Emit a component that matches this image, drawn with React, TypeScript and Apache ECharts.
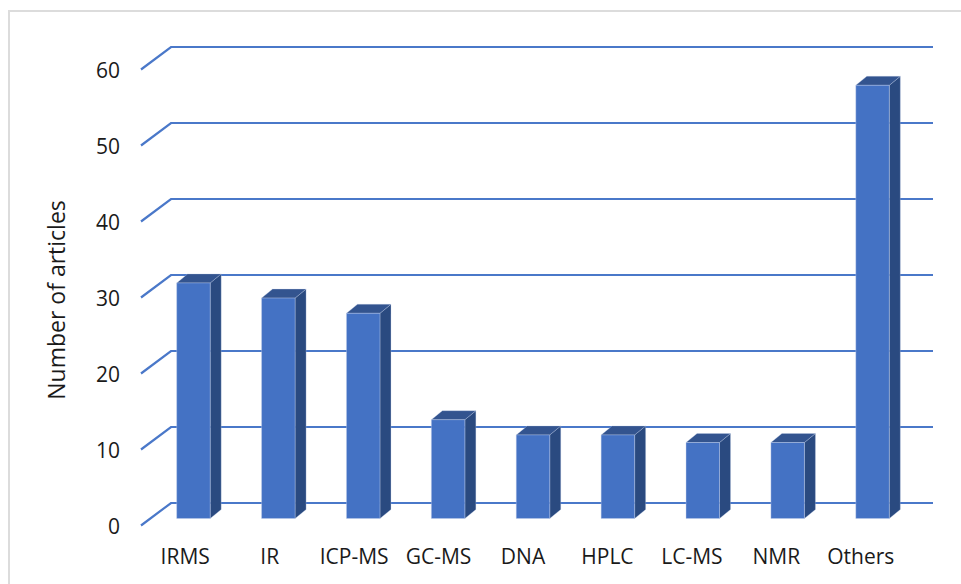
import React, { useEffect, useRef } from "react";
import * as echarts from "echarts";

const categories = ["IRMS", "IR", "ICP-MS", "GC-MS", "DNA", "HPLC", "LC-MS", "NMR", "Others"];
const articleCounts = [31, 29, 27, 13, 11, 11, 10, 10, 57];
const gridValues = [0, 10, 20, 30, 40, 50, 60];

const FONT = "'Open Sans', 'Noto Sans', sans-serif";

export default function App() {
  const ref = useRef<HTMLDivElement>(null);
  useEffect(() => {
    const chart = echarts.init(ref.current!, undefined, { renderer: "svg" });
    chart.setOption({
      animation: false,
      backgroundColor: "#ffffff",
      grid: [
        { left: 141, top: 69.5, width: 764, height: 456 },
        { left: 143, top: 69.5, width: 760, height: 456 },
      ],
      xAxis: [
        {
          type: "category",
          gridIndex: 0,
          data: categories,
          axisLine: { show: false },
          axisTick: { show: false },
          axisLabel: { show: false },
        },
        {
          type: "category",
          gridIndex: 1,
          data: categories,
          axisLine: { show: false },
          axisTick: { show: false },
          axisLabel: { color: "#1a1a1a", fontSize: 21, fontFamily: FONT, margin: 20, interval: 0, hideOverlap: false },
        },
      ],
      yAxis: [
        {
          type: "value",
          gridIndex: 0,
          min: 0,
          max: 60,
          interval: 10,
          name: "Number of articles",
          nameLocation: "middle",
          nameGap: 74,
          nameTextStyle: { color: "#1a1a1a", fontSize: 23, fontFamily: FONT, padding: [0, 5, 0, 0] },
          axisLine: { show: false },
          axisTick: { show: false },
          splitLine: { show: false },
          axisLabel: { color: "#1a1a1a", fontSize: 21, fontFamily: FONT, margin: 21 },
        },
        {
          type: "value",
          gridIndex: 1,
          min: 0,
          max: 60,
          interval: 10,
          axisLine: { show: false },
          axisTick: { show: false },
          splitLine: { show: false },
          axisLabel: { show: false },
        },
      ],
      graphic: [
        {
          type: "polyline",
          silent: true,
          shape: { points: [[9, 584], [9, 11], [961, 11]] },
          style: { stroke: "#dcdcdc", lineWidth: 2, fill: "none" },
        },
      ],
      series: [
        {
          type: "custom",
          coordinateSystem: "cartesian2d",
          xAxisIndex: 0,
          yAxisIndex: 0,
          data: gridValues.map((v) => [0, v]),
          z: 1,
          clip: false,
          renderItem: (_p: any, api: any) => {
            const y = api.coord([0, api.value(1)])[1];
            return {
              type: "polyline",
              shape: { points: [[141, y], [171, y - 22.5], [933, y - 22.5]] },
              style: { stroke: "#4a78c9", lineWidth: 2.2, fill: "none" },
            };
          },
        },
        {
          type: "custom",
          coordinateSystem: "cartesian2d",
          xAxisIndex: 0,
          yAxisIndex: 0,
          data: articleCounts.map((v, i) => [i, v]),
          encode: { x: 0, y: 1 },
          z: 2,
          clip: false,
          renderItem: (_p: any, api: any) => {
            const [cx, yTopRaw] = api.coord([api.value(0), api.value(1)]);
            const [, yBaseRaw] = api.coord([api.value(0), 0]);
            const width = 33.5;
            const left = cx + 10 - width / 2;
            const right = left + width;
            const base = yBaseRaw - 7;
            const top = yTopRaw - 7;
            const dx = 11;
            const dy = 9;
            const edge = "#c3d0ea";
            return {
              type: "group",
              children: [
                {
                  type: "polygon",
                  shape: { points: [[right, top], [right + dx, top - dy], [right + dx, base - dy], [right, base]] },
                  style: { fill: "#2a4a80", stroke: edge, lineWidth: 0.3 },
                },
                {
                  type: "polygon",
                  shape: { points: [[left, top], [left + dx, top - dy], [right + dx, top - dy], [right, top]] },
                  style: { fill: "#33548f", stroke: edge, lineWidth: 0.3 },
                },
                {
                  type: "rect",
                  shape: { x: left, y: top, width, height: base - top },
                  style: { fill: "#4472c4", stroke: edge, lineWidth: 0.4 },
                },
              ],
            };
          },
        },
      ],
    });
    return () => chart.dispose();
  }, []);
  return <div ref={ref} style={{ position: "absolute", left: 0, top: 0, width: 961, height: 584 }} />;
}
